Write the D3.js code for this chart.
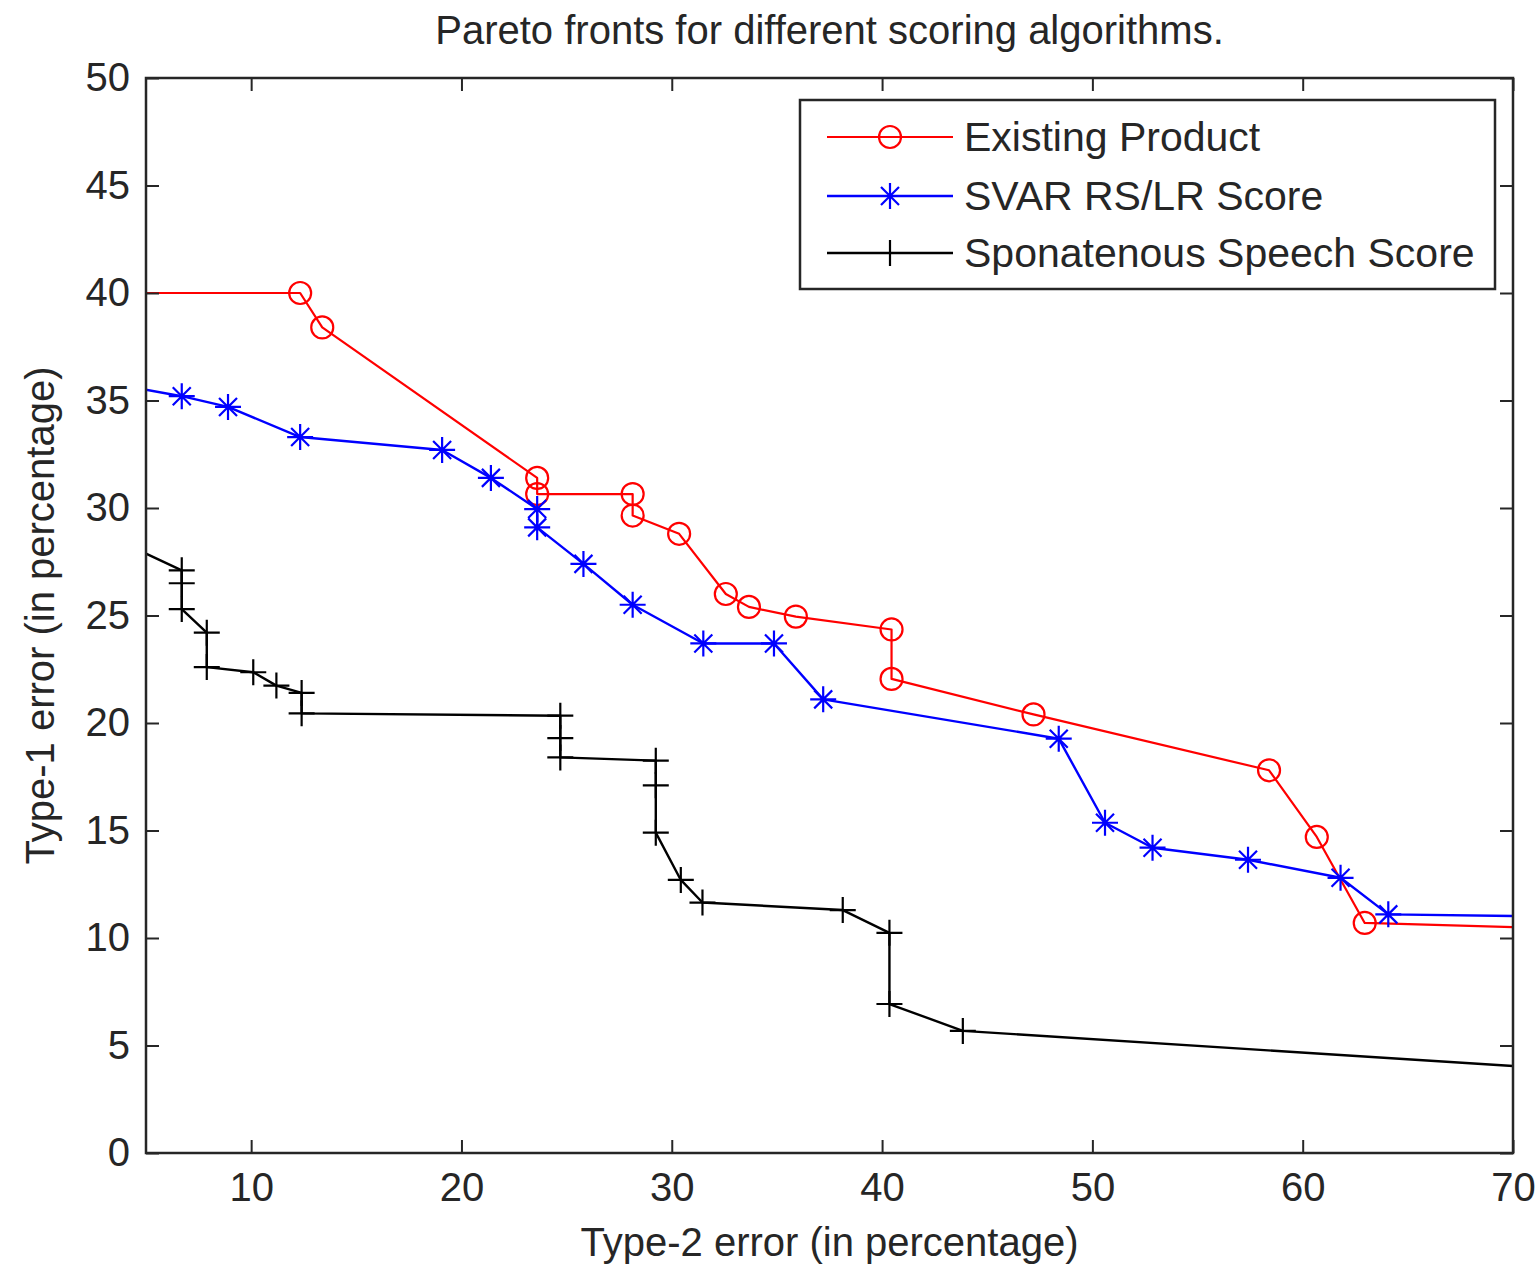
<!DOCTYPE html>
<html>
<head>
<meta charset="utf-8">
<script src="https://cdn.jsdelivr.net/npm/d3@7"></script>
<style>
  html, body { margin: 0; padding: 0; background: #fff; }
  svg { display: block; }
  text { font-family: "Liberation Sans", Arial, sans-serif; fill: #262626; }
</style>
</head>
<body>
<svg id="chart" width="1539" height="1266"></svg>
<script>
// ---- data ----
const seriesNames = ["Existing Product", "SVAR RS/LR Score", "Sponatenous Speech Score"];

const existingX = [3, 12.33, 13.38, 23.6, 23.6, 28.14, 28.14, 30.35, 32.57, 33.67, 35.9, 40.45, 40.45, 47.2, 58.4, 60.67, 62.95, 72];
const existingY = [40, 40, 38.4, 31.4, 30.65, 30.65, 29.65, 28.8, 26.0, 25.4, 24.95, 24.35, 22.05, 20.4, 17.8, 14.7, 10.7, 10.45];

const svarX = [3, 6.7, 8.9, 12.33, 19.08, 21.4, 23.6, 23.6, 25.8, 28.14, 31.5, 34.86, 37.2, 48.4, 50.6, 52.86, 57.4, 61.8, 64.07, 72];
const svarY = [35.85, 35.2, 34.7, 33.3, 32.7, 31.4, 29.95, 29.1, 27.4, 25.5, 23.7, 23.7, 21.1, 19.27, 15.36, 14.2, 13.64, 12.8, 11.1, 11.0];

const speechX = [3, 6.7, 6.7, 6.7, 7.89, 7.89, 10.1, 11.2, 12.4, 12.4, 24.7, 24.7, 24.7, 29.24, 29.24, 29.24, 30.43, 31.46, 38.13, 40.35, 40.35, 43.84, 73];
const speechY = [28.8, 27.1, 26.5, 25.3, 24.2, 22.6, 22.36, 21.74, 21.4, 20.45, 20.34, 19.3, 18.4, 18.25, 17.1, 14.9, 12.7, 11.65, 11.3, 10.24, 6.93, 5.68, 3.86];

const xTicks = [10, 20, 30, 40, 50, 60, 70];
const yTicks = [0, 5, 10, 15, 20, 25, 30, 35, 40, 45, 50];

const titleText = "Pareto fronts for different scoring algorithms.";
const xLabel = "Type-2 error (in percentage)";
const yLabel = "Type-1 error (in percentage)";

// ---- layout ----
const L = 146, R = 1513, T = 78, B = 1153;
const svg = d3.select("#chart");

const x = d3.scaleLinear().domain([5, 70]).range([L, R]);
const y = d3.scaleLinear().domain([0, 50]).range([B, T]);

const series = [
  { name: seriesNames[0], xs: existingX, ys: existingY, color: "#ff0000", marker: "circle", width: 2.2 },
  { name: seriesNames[1], xs: svarX, ys: svarY, color: "#0000ff", marker: "star", width: 2.4 },
  { name: seriesNames[2], xs: speechX, ys: speechY, color: "#000000", marker: "plus", width: 2.4 }
];

function markerPath(type) {
  if (type === "circle") {
    const r = 11;
    return `M${-r},0A${r},${r} 0 1,0 ${r},0A${r},${r} 0 1,0 ${-r},0Z`;
  }
  if (type === "star") {
    const a = 13, d = 9;
    return `M${-a},0L${a},0M0,${-a}L0,${a}M${-d},${-d}L${d},${d}M${-d},${d}L${d},${-d}`;
  }
  const p = 13;
  return `M${-p},0L${p},0M0,${-p}L0,${p}`;
}

svg.append("defs").append("clipPath").attr("id", "plotclip")
  .append("rect").attr("x", L).attr("y", T).attr("width", R - L).attr("height", B - T);

svg.append("rect").attr("x", L).attr("y", T).attr("width", R - L).attr("height", B - T).attr("fill", "#fff");

const plot = svg.append("g").attr("clip-path", "url(#plotclip)");
const line = d3.line().x(d => x(d[0])).y(d => y(d[1]));

series.forEach(s => {
  const pts = s.xs.map((v, i) => [v, s.ys[i]]);
  plot.append("path").datum(pts)
    .attr("d", line).attr("fill", "none")
    .attr("stroke", s.color).attr("stroke-width", s.width).attr("stroke-linejoin", "round");
  plot.selectAll(null).data(pts).enter().append("path")
    .attr("transform", d => `translate(${x(d[0])},${y(d[1])})`)
    .attr("d", markerPath(s.marker))
    .attr("fill", "none").attr("stroke", s.color).attr("stroke-width", 2.2);
});

// ---- axes ----
const axisColor = "#262626";
const tickLen = 13;

const xAxis = svg.append("g").attr("transform", `translate(0,${B})`)
  .call(d3.axisBottom(x).tickValues(xTicks).tickSize(-tickLen).tickPadding(20).tickFormat(d3.format("d")));
const xAxisTop = svg.append("g").attr("transform", `translate(0,${T})`)
  .call(d3.axisTop(x).tickValues(xTicks).tickSize(-tickLen).tickFormat(""));
const yAxis = svg.append("g").attr("transform", `translate(${L},0)`)
  .call(d3.axisLeft(y).tickValues(yTicks).tickSize(-tickLen).tickPadding(16).tickFormat(d3.format("d")));
const yAxisRight = svg.append("g").attr("transform", `translate(${R},0)`)
  .call(d3.axisRight(y).tickValues(yTicks).tickSize(-tickLen).tickFormat(""));

[xAxis, xAxisTop, yAxis, yAxisRight].forEach(g => {
  g.select(".domain").remove();
  g.selectAll(".tick line").attr("stroke", axisColor).attr("stroke-width", 2);
  g.selectAll(".tick text").attr("font-size", 40).attr("fill", axisColor)
    .attr("font-family", "'Liberation Sans', Arial, sans-serif");
});

svg.append("rect").attr("x", L).attr("y", T).attr("width", R - L).attr("height", B - T)
  .attr("fill", "none").attr("stroke", axisColor).attr("stroke-width", 2.5);

// ---- titles ----
svg.append("text").attr("x", (L + R) / 2).attr("y", 44).attr("text-anchor", "middle")
  .attr("font-size", 40).text(titleText);
svg.append("text").attr("x", (L + R) / 2).attr("y", 1256).attr("text-anchor", "middle")
  .attr("font-size", 40).text(xLabel);
svg.append("text").attr("transform", `translate(54,${(T + B) / 2}) rotate(-90)`)
  .attr("text-anchor", "middle").attr("font-size", 40).text(yLabel);

// ---- legend ----
const lg = svg.append("g");
lg.append("rect").attr("x", 800).attr("y", 100).attr("width", 695).attr("height", 189)
  .attr("fill", "#fff").attr("stroke", axisColor).attr("stroke-width", 2.5);
const rowY = [137, 196, 253];
series.forEach((s, i) => {
  lg.append("line").attr("x1", 827).attr("x2", 953).attr("y1", rowY[i]).attr("y2", rowY[i])
    .attr("stroke", s.color).attr("stroke-width", s.width);
  lg.append("path").attr("transform", `translate(890,${rowY[i]})`).attr("d", markerPath(s.marker))
    .attr("fill", "none").attr("stroke", s.color).attr("stroke-width", 2.2);
  lg.append("text").attr("x", 964).attr("y", rowY[i] + 14).attr("font-size", 41).text(s.name);
});
</script>
</body>
</html>
